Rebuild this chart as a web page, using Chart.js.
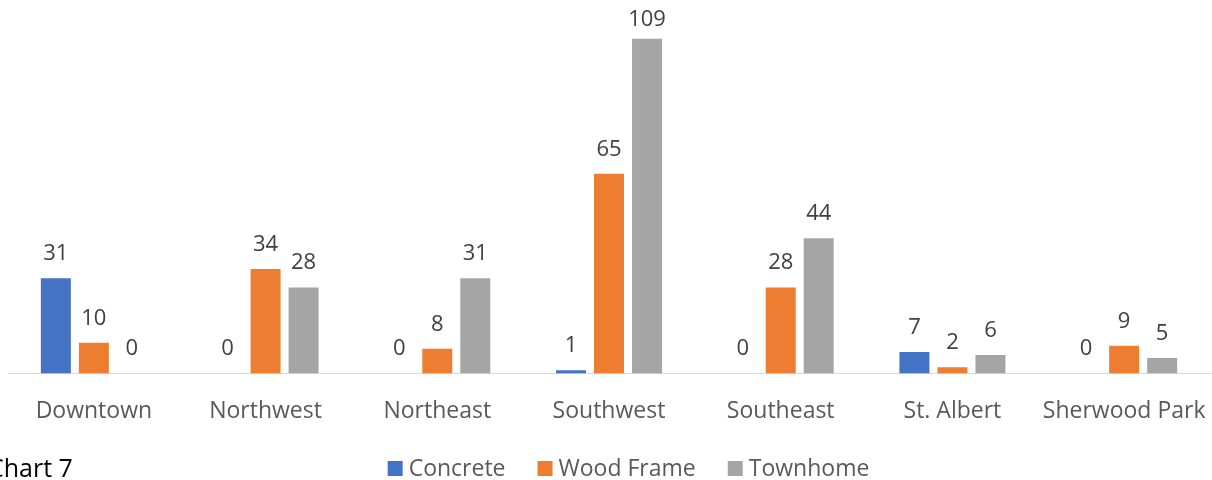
<!DOCTYPE html>
<html>
<head>
<meta charset="utf-8">
<script src="https://cdn.jsdelivr.net/npm/chart.js@4.4.1/dist/chart.umd.min.js"></script>
<style>
html,body{margin:0;padding:0;background:#fff;}
#wrap{width:1212px;height:480px;position:relative;}
</style>
</head>
<body>
<div id="wrap"><canvas id="c" width="1212" height="480"></canvas></div>
<script>
const categories = ["Downtown", "Northwest", "Northeast", "Southwest", "Southeast", "St. Albert", "Sherwood Park"];
const seriesNames = ["Concrete", "Wood Frame", "Townhome"];
const concrete = [31, 0, 0, 1, 0, 7, 0];
const woodFrame = [10, 34, 8, 65, 28, 2, 9];
const townhome = [0, 28, 31, 109, 44, 6, 5];
const seriesColors = ["#4472C4", "#ED7D31", "#A5A5A5"];
const captionText = "Chart 7";

const FONT = "'Open Sans', 'DejaVu Sans', sans-serif";

const dataLabelPlugin = {
  id: 'dataLabels',
  afterDatasetsDraw(chart) {
    const ctx = chart.ctx;
    ctx.save();
    ctx.font = "22px " + FONT;
    ctx.fillStyle = "#404040";
    ctx.textAlign = "center";
    ctx.textBaseline = "alphabetic";
    chart.data.datasets.forEach((ds, i) => {
      const meta = chart.getDatasetMeta(i);
      meta.data.forEach((el, j) => {
        ctx.fillText(String(ds.data[j]), el.x, Math.max(el.y - 18, 26));
      });
    });
    ctx.restore();
  }
};

const legendPlugin = {
  id: 'customLegend',
  afterDraw(chart) {
    const ctx = chart.ctx;
    ctx.save();
    ctx.font = "23px " + FONT;
    ctx.textBaseline = "alphabetic";
    ctx.textAlign = "left";
    const box = 15, gapBT = 6, gapItems = 32;
    const items = chart.data.datasets.map(ds => ({label: ds.label, color: ds.backgroundColor, w: ctx.measureText(ds.label).width}));
    let total = 0;
    items.forEach((it, i) => { total += box + gapBT + it.w + (i < items.length - 1 ? gapItems : 0); });
    let x = 628.5 - total / 2;
    const boxTop = 461, baseline = 476;
    items.forEach(it => {
      ctx.fillStyle = it.color;
      ctx.fillRect(x, boxTop, box, box);
      ctx.fillStyle = "#595959";
      ctx.fillText(it.label, x + box + gapBT, baseline);
      x += box + gapBT + it.w + gapItems;
    });
    // caption
    ctx.font = "25px " + FONT;
    ctx.fillStyle = "#000000";
    ctx.fillText(captionText, -12, 477);
    ctx.restore();
  }
};

new Chart(document.getElementById('c'), {
  type: 'bar',
  data: {
    labels: categories,
    datasets: [
      {label: seriesNames[0], data: concrete, backgroundColor: seriesColors[0]},
      {label: seriesNames[1], data: woodFrame, backgroundColor: seriesColors[1]},
      {label: seriesNames[2], data: townhome, backgroundColor: seriesColors[2]}
    ]
  },
  options: {
    responsive: false,
    animation: false,
    datasets: {bar: {categoryPercentage: 0.664, barPercentage: 0.789}},
    layout: {padding: {top: 5, left: 8, right: 2, bottom: 55}},
    plugins: {legend: {display: false}, tooltip: {enabled: false}, title: {display: false}},
    scales: {
      x: {
        grid: {display: true, drawOnChartArea: false, drawTicks: true, tickLength: 24, tickColor: "rgba(0,0,0,0)"},
        border: {display: true, color: "#D9D9D9", width: 1},
        ticks: {color: "#595959", font: {family: FONT, size: 23}, padding: 0, maxRotation: 0, autoSkip: false}
      },
      y: {display: false, min: 0, max: 120}
    }
  },
  plugins: [dataLabelPlugin, legendPlugin]
});
</script>
</body>
</html>
